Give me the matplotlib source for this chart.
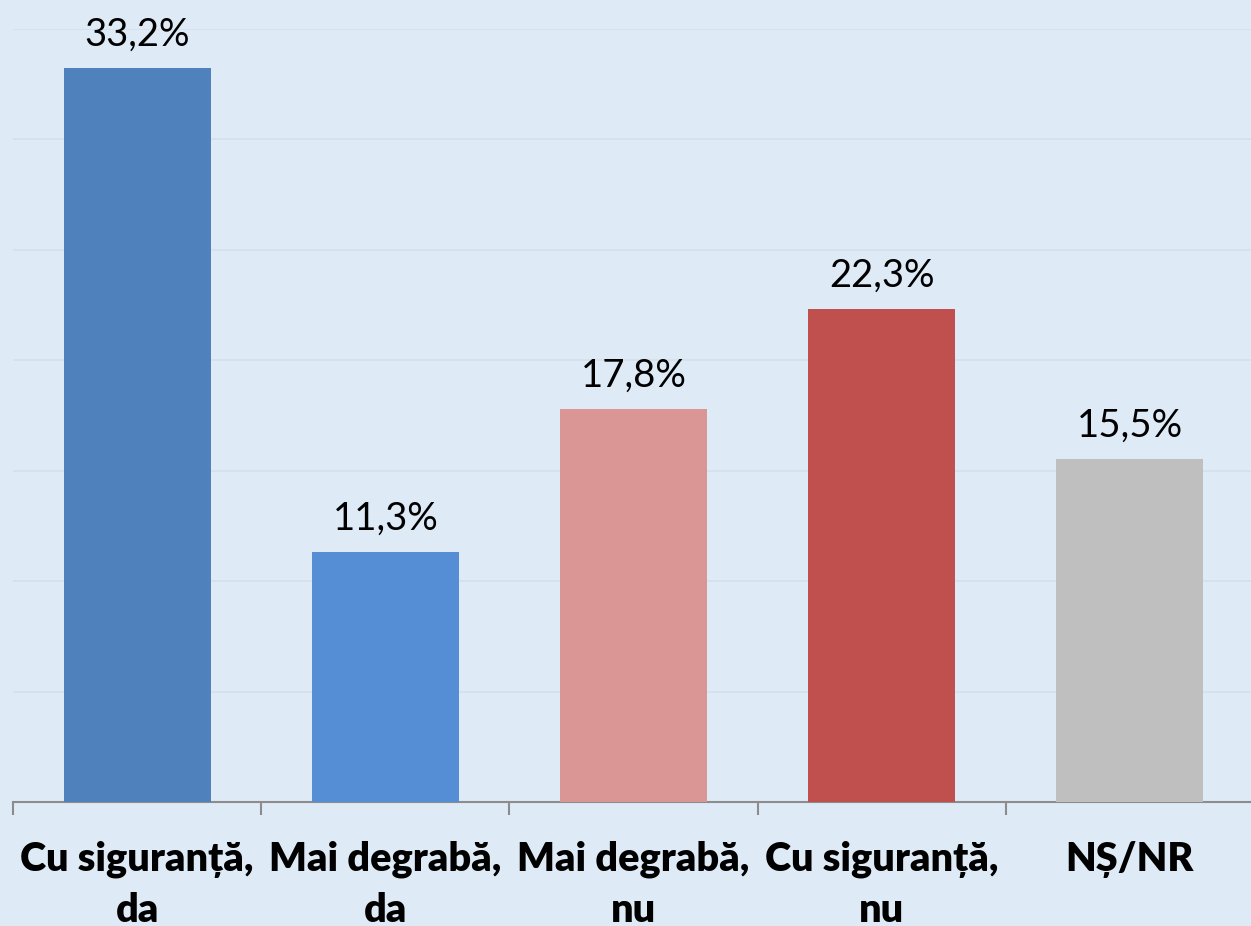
import matplotlib
matplotlib.use("Agg")
import matplotlib.pyplot as plt
import numpy as np

categories = ["Cu siguranță,\nda", "Mai degrabă,\nda", "Mai degrabă,\nnu", "Cu siguranță,\nnu", "NȘ/NR"]
values = [33.2, 11.3, 17.8, 22.3, 15.5]
value_labels = ["33,2%", "11,3%", "17,8%", "22,3%", "15,5%"]
colors = ["#4F81BD", "#558ED5", "#D99694", "#C0504D", "#BFBFBF"]

bg = "#DEEAF6"
plt.rcParams['font.family'] = ['Lato', 'DejaVu Sans']

fig = plt.figure(figsize=(12.51, 9.26), dpi=100, facecolor=bg)
ax = fig.add_axes([13/1251, 124/926, 1241/1251, 773.5/926])
ax.set_facecolor(bg)

x = np.arange(len(values))
bars = ax.bar(x, values, width=0.593, color=colors, zorder=3)

ax.set_xlim(-0.5, len(values) - 0.5)
ax.set_ylim(0, 35)
ax.set_yticks(np.arange(0, 36, 5))
ax.yaxis.grid(True, color="#D5E0EC", linewidth=1.2, zorder=0)
ax.tick_params(axis='y', left=False, labelleft=False)

for s in ["top", "right", "left"]:
    ax.spines[s].set_visible(False)
ax.spines["bottom"].set_color("#8C8C8C")
ax.spines["bottom"].set_linewidth(1.5)

# tick marks between categories
ax.set_xticks(np.arange(-0.5, len(values)), minor=False)
ax.set_xticklabels([])
ax.tick_params(axis='x', which='major', direction='out', length=9, width=1.5, color="#8C8C8C")
ax.set_xticks(x, minor=True)
ax.set_xticklabels(categories, minor=True, fontsize=28.5, fontweight='heavy', linespacing=1.45)
ax.tick_params(axis='x', which='minor', length=0, pad=28)

for xi, v, lab in zip(x, values, value_labels):
    ax.annotate(lab, (xi, v), xytext=(0, 16), textcoords='offset points',
                ha='center', va='baseline', fontsize=27.5, color='black')

fig.savefig("out.png", dpi=100, facecolor=bg)
